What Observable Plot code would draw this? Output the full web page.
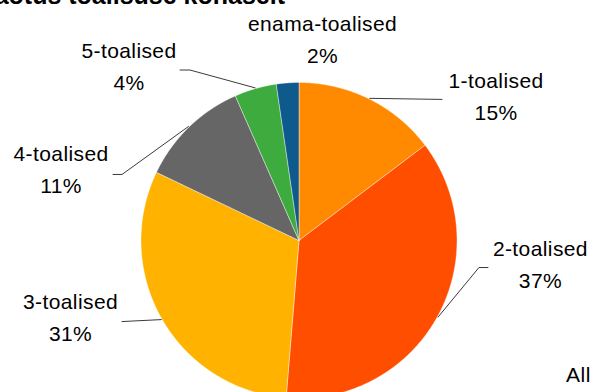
<!DOCTYPE html>
<html>
<head>
<meta charset="utf-8">
<script src="https://cdn.jsdelivr.net/npm/d3@7"></script>
<script src="https://cdn.jsdelivr.net/npm/@observablehq/plot@0.6"></script>
<style>
  html, body { margin: 0; padding: 0; background: #fff; overflow: hidden; width: 590px; height: 392px; }
  #wrap { position: relative; width: 590px; height: 392px; font-family: "Liberation Sans", Arial, sans-serif; }
  #title { position: absolute; right: 305px; top: -17px; font-size: 25px; line-height: 25px; font-weight: bold; white-space: nowrap; color: #000; }
  #source { position: absolute; left: 566px; top: 364px; font-size: 21px; line-height: 21px; letter-spacing: 0.5px; white-space: nowrap; color: #000; }
  #chart { position: absolute; left: 0; top: 0; }
</style>
</head>
<body>
<div id="wrap">
  <div id="chart"></div>
  <div id="title">Korterite jaotus toalisuse kohaselt</div>
  <div id="source">Allikas: Statistikaamet</div>
</div>
<script>
// ---- data ----
const categories = ["1-toalised", "2-toalised", "3-toalised", "4-toalised", "5-toalised", "enama-toalised"];
const shares = [14.7, 36.6, 30.8, 11.3, 4.3, 2.3];
const colors = ["#FF8A00", "#FF4E00", "#FFB300", "#666666", "#3DAB3D", "#0E5A8C"];

// ---- label layout (unit-circle coordinates, radius = 1) ----
const labelLayout = {
  "1-toalised":     {at: [1.247, 0.928],  leader: [[0.905, 0.893]]},
  "2-toalised":     {at: [1.528, -0.135], leader: [[1.139, -0.171], [1.196, -0.171]]},
  "3-toalised":     {at: [-1.446, -0.471], leader: [[-1.120, -0.513]]},
  "4-toalised":     {at: [-1.506, 0.464], leader: [[-1.120, 0.418], [-1.177, 0.418]]},
  "5-toalised":     {at: [-1.076, 1.116], leader: [[-0.690, 1.079], [-0.753, 1.079]]},
  "enama-toalised": {at: [0.149, 1.292], leader: []}
};

// ---- build slices with d3.pie (clockwise from 12 o'clock) ----
const pie = d3.pie().sort(null).value(d => d.value);
const arcs = pie(categories.map((c, i) => ({cat: c, value: shares[i]})));
const total = d3.sum(shares);

const slicePts = [];
for (const a of arcs) {
  const cat = a.data.cat;
  slicePts.push({cat, x: 0, y: 0});
  const n = Math.max(2, Math.ceil((a.endAngle - a.startAngle) / 0.004));
  for (let k = 0; k <= n; k++) {
    const t = a.startAngle + (a.endAngle - a.startAngle) * k / n;
    slicePts.push({cat, x: Math.sin(t), y: Math.cos(t)});
  }
  slicePts.push({cat, x: 0, y: 0});
}

const labels = [];
const leaderPts = [];
for (const a of arcs) {
  const cat = a.data.cat;
  const mid = (a.startAngle + a.endAngle) / 2;
  const L = labelLayout[cat];
  labels.push({
    cat,
    x: L.at[0], y: L.at[1],
    text: cat + "\n" + Math.round(a.data.value / total * 100) + "%"
  });
  if (L.leader.length) {
    leaderPts.push({cat, x: Math.sin(mid) * 1.005, y: Math.cos(mid) * 1.005});
    for (const p of L.leader) leaderPts.push({cat, x: p[0], y: p[1]});
  }
}

const R = 158, cx = 298.5, cy = 240, W = 590, H = 392;

const chart = Plot.plot({
  width: W,
  height: H,
  marginLeft: cx - R,
  marginRight: W - (cx + R),
  marginTop: cy - R,
  marginBottom: 0,
  x: {domain: [-1, 1], axis: null},
  y: {domain: [-(H - cy) / R, 1], axis: null},
  color: {domain: categories, range: colors},
  style: {fontFamily: "'Liberation Sans', Arial, sans-serif", background: "transparent", overflow: "visible", letterSpacing: "0.4px"},
  marks: [
    Plot.line(slicePts, {x: "x", y: "y", z: "cat", fill: "cat", stroke: "#ffffff", strokeWidth: 0.4, curve: "linear"}),
    Plot.line(leaderPts, {x: "x", y: "y", z: "cat", stroke: "#3a3a3a", strokeWidth: 1, curve: "linear"}),
    Plot.text(labels, {x: "x", y: "y", text: "text", fontSize: 21, lineHeight: 1.52, textAnchor: "middle", lineAnchor: "middle", fill: "#000"})
  ]
});
document.getElementById("chart").appendChild(chart);
</script>
</body>
</html>
